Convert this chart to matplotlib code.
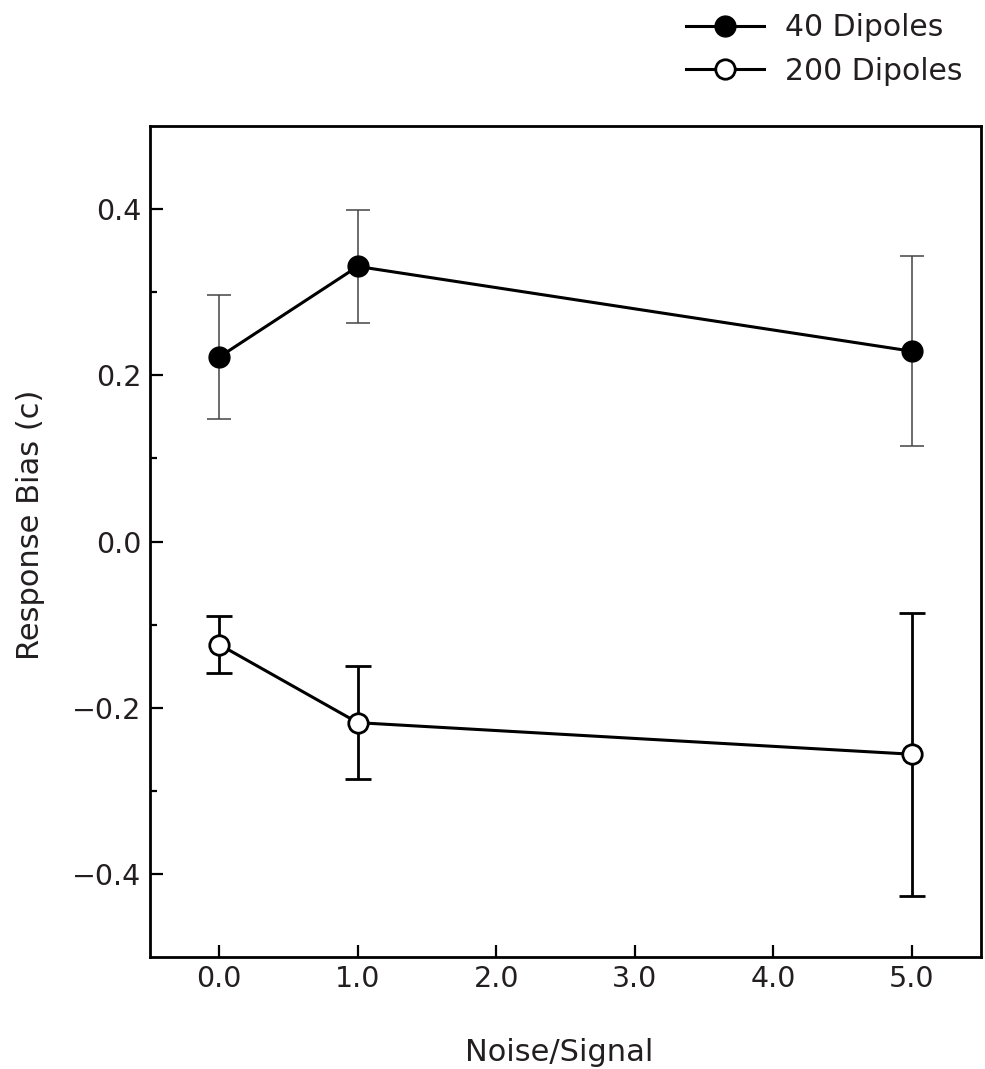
import numpy as np
import matplotlib.pyplot as plt

# data
x = [0, 1, 5]
xticks = [0, 1, 2, 3, 4, 5]
xticklabels = ['0.0', '1.0', '2.0', '3.0', '4.0', '5.0']

bias_40 = [0.222, 0.331, 0.229]
err_40 = [0.075, 0.068, 0.114]

bias_200 = [-0.124, -0.218, -0.256]
err_200 = [0.034, 0.068, 0.170]

txt = '#231f20'

fig = plt.figure(figsize=(9.85, 10.69), dpi=100)
ax = fig.add_axes([150/985, 1 - 957/1069, 831/985, 831/1069])

ax.errorbar(x, bias_40, yerr=err_40, fmt='none', ecolor='#444444',
            elinewidth=1.1, capsize=8.6, capthick=1.1, zorder=2)
ax.errorbar(x, bias_200, yerr=err_200, fmt='none', ecolor='black',
            elinewidth=2, capsize=9.5, capthick=2, zorder=2)

l40, = ax.plot(x, bias_40, '-o', color='black', lw=2.2, ms=15,
               mfc='black', mec='black', zorder=3, label='40 Dipoles')
l200, = ax.plot(x, bias_200, '-o', color='black', lw=2.2, ms=14, mew=2,
                mfc='white', mec='black', zorder=3, label='200 Dipoles')

ax.set_xlim(-0.5, 5.5)
ax.set_ylim(-0.5, 0.5)
ax.set_xticks(xticks)
ax.set_xticklabels(xticklabels)
ax.set_yticks([-0.4, -0.2, 0.0, 0.2, 0.4])
ax.set_yticks([-0.3, -0.1, 0.1, 0.3], minor=True)
ax.yaxis.set_major_formatter(plt.FuncFormatter(lambda v, p: f'{v:.1f}'.replace('-', '\u2212')))

for s in ax.spines.values():
    s.set_linewidth(2)
ax.tick_params(which='major', direction='in', length=9, width=1.6,
               labelsize=20.5, labelcolor=txt, pad=6)
ax.tick_params(which='minor', direction='in', length=5, width=1.6)

ax.set_xlabel('Noise/Signal', fontsize=22, color=txt)
ax.set_ylabel('Response Bias (c)', fontsize=22, color=txt)
ax.xaxis.set_label_coords((559 - 150) / 831, -(1038 - 957) / 831)
ax.yaxis.set_label_coords(-(150 - 45) / 831, (957 - 525) / 831)

leg = fig.legend(handles=[l40, l200], loc='upper left',
                 bbox_to_anchor=(686/985, 1 - 13/1069), frameon=False,
                 fontsize=21.5, handlelength=2.6, handletextpad=0.7,
                 labelspacing=0.5, borderpad=0, borderaxespad=0)
for t in leg.get_texts():
    t.set_color(txt)

plt.savefig('out.png', dpi=100)
